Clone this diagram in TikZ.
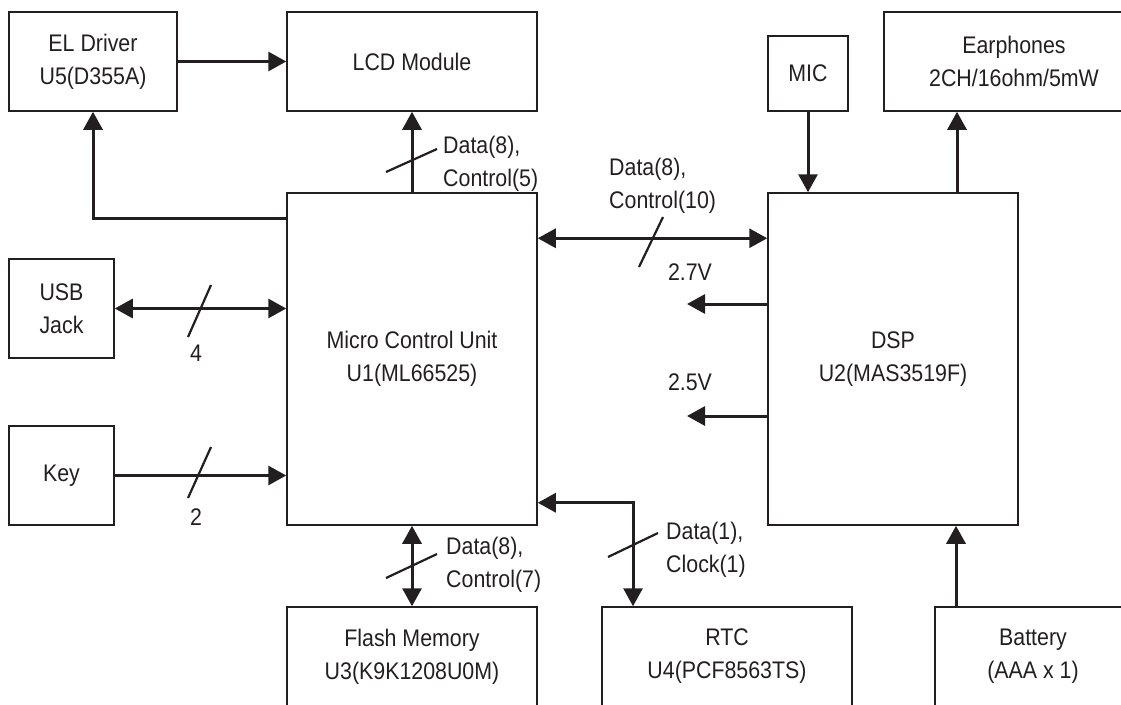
\documentclass[tikz,border=0pt]{standalone}
\usepackage{fontspec}
\setmainfont{Liberation Sans}[FakeStretch=0.89]
\usetikzlibrary{arrows.meta}
\definecolor{ink}{HTML}{231F20}
\begin{document}
\begin{tikzpicture}[x=1pt,y=-1pt,
  every node/.style={text=ink},
  box/.style={draw=ink, line width=1.5pt, inner sep=0pt, align=center,
    font=\fontsize{24}{33}\selectfont},
  lbl/.style={inner sep=0pt, align=left, font=\fontsize{24}{33}\selectfont},
  arr/.style={draw=ink, line width=3pt, -{Triangle[length=18pt,width=19pt]}},
  arrb/.style={draw=ink, line width=3pt, {Triangle[length=18pt,width=19pt]}-{Triangle[length=18pt,width=19pt]}},
  slashmark/.style={draw=ink, line width=2.2pt}]
\useasboundingbox (0,0) rectangle (1121,704);
\clip (0,0) rectangle (1121,704);
% boxes
\node[box, minimum width=168pt, minimum height=99pt] (el) at (93,61.5) {EL Driver\\U5(D355A)};
\node[box, minimum width=250pt, minimum height=99pt] (lcd) at (412,61.5) {LCD Module};
\node[box, minimum width=80pt, minimum height=75pt] (mic) at (808,73.5) {MIC};
\node[box, minimum width=260pt, minimum height=99pt] (ear) at (1014,61.5) {Earphones\\2CH/16ohm/5mW};
\node[box, minimum width=250pt, minimum height=332pt] (mcu) at (412,359) {Micro Control Unit\\U1(ML66525)};
\node[box, minimum width=250pt, minimum height=332pt] (dsp) at (893,359) {DSP\\U2(MAS3519F)};
\node[box, minimum width=105pt, minimum height=99pt] (usb) at (61.5,308.5) {USB\\Jack};
\node[box, minimum width=105pt, minimum height=99pt] (key) at (61.5,475.5) {Key};
\node[box, minimum width=250pt, minimum height=99pt] (flash) at (412,656.5) {Flash Memory\\U3(K9K1208U0M)};
\node[box, minimum width=250pt, minimum height=99pt] (rtc) at (727,656.5) {RTC\\U4(PCF8563TS)};
\node[box, minimum width=196pt, minimum height=99pt] (bat) at (1033,656.5) {Battery\\(AAA x 1)};
% free ends / helper coordinates
\coordinate (v27) at (687,304);
\coordinate (v25) at (687,416);
\coordinate (epx) at (957,150);
\coordinate (bx) at (956,560);
% connectors
\draw[arr] (el.east) -- (lcd.west);
\draw[arr] (mcu.north) -- (lcd.south);
\draw[arr] ([yshift=-26pt]mcu.north west) -| (el.south);
\draw[arrb] ([yshift=-46pt]mcu.north east) -- ([yshift=-46pt]dsp.north west);
\draw[arr] (dsp.west |- v27) -- (v27);
\draw[arr] (dsp.west |- v25) -- (v25);
\draw[arr] (mic.south) -- (mic.south |- dsp.north);
\draw[arr] (dsp.north -| epx) -- (ear.south -| epx);
\draw[arrb] (usb.east) -- (usb.east -| mcu.west);
\draw[arr] (key.east) -- (key.east -| mcu.west);
\draw[arrb] (mcu.south) -- (flash.north);
\draw[arrb] ([yshift=23pt]mcu.south east) -| ([xshift=-94pt]rtc.north);
\draw[arr] (bat.north -| bx) -- (dsp.south -| bx);
% bus width slashes
\draw[slashmark] (386,172) -- (437,149);
\draw[slashmark] (639,267) -- (663,217);
\draw[slashmark] (188,337) -- (211,285);
\draw[slashmark] (188,498) -- (211,447);
\draw[slashmark] (386,578) -- (437,554);
\draw[slashmark] (608,557) -- (658,533);
% labels
\node[lbl, anchor=west] (l1) at (443,164) {Data(8),\\Control(5)};
\node[lbl, anchor=west] (l2) at (609,186) {Data(8),\\Control(10)};
\node[lbl] (l3) at (196,353) {4};
\node[lbl] (l4) at (196,517) {2};
\node[lbl, anchor=west] (l5) at (446,565) {Data(8),\\Control(7)};
\node[lbl, anchor=west] (l6) at (666,550) {Data(1),\\Clock(1)};
\node[lbl] (l7) at (690,272) {2.7V};
\node[lbl] (l8) at (690,382) {2.5V};
\end{tikzpicture}
\end{document}
